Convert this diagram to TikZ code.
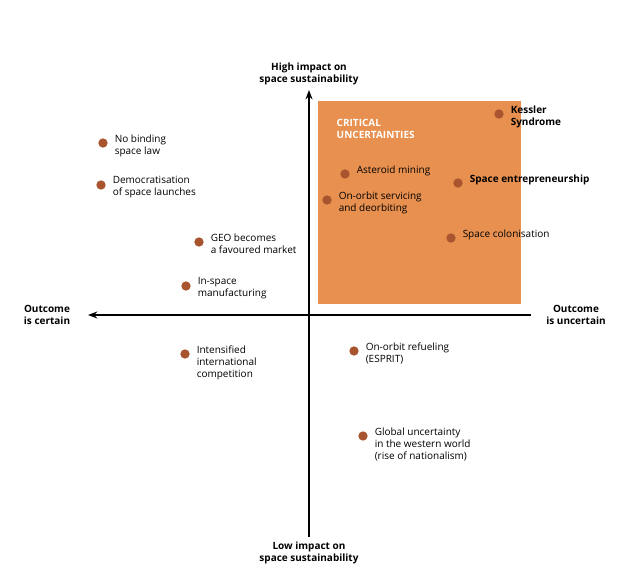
\documentclass[tikz,border=0pt]{standalone}
\usepackage{fontspec}
\setmainfont{Open Sans}
\usetikzlibrary{arrows.meta}
\definecolor{critorange}{HTML}{E8904F}
\definecolor{dotbrown}{HTML}{A8552F}
\tikzset{
  pt/.style={circle,fill=dotbrown,inner sep=0pt,minimum size=7pt},
  lbl/.style={anchor=west,align=left,font=\fontsize{7.5}{9}\selectfont,inner sep=1pt},
  axlbl/.style={align=center,font=\fontsize{7.5}{9}\selectfont\bfseries}
}
\begin{document}
\begin{tikzpicture}[x=0.75pt,y=-0.75pt]
\useasboundingbox (0,0) rectangle (640,585);
\fill[critorange] (318,101) rectangle (521,304);
\node[anchor=north west,align=left,text=white,font=\fontsize{7.5}{9}\selectfont\bfseries] (crit) at (332,115) {CRITICAL\\UNCERTAINTIES};
% axes
\coordinate (left) at (88,315);
\coordinate (right) at (531,315);
\coordinate (top) at (309,90);
\coordinate (bottom) at (309,537);
\draw[-{Stealth[length=7pt]},{Stealth[length=7pt]}-,line width=1.2pt] (left) -- (right);
\draw[-{Stealth[length=7pt]},{Stealth[length=7pt]}-,line width=1.2pt] (top) -- (bottom);
\node[axlbl,above] (hi) at (top) {High impact on\\space sustainability};
\node[axlbl,below] (lo) at (bottom) {Low impact on\\space sustainability};
\node[axlbl] (cert) at (47,315) {Outcome\\is certain};
\node[axlbl] (unc) at (576,315) {Outcome\\is uncertain};
% points
\foreach \x/\y/\t [count=\i] in {
  103/143/{No binding\\space law},
  101/185/{Democratisation\\of space launches},
  199/242/{GEO becomes\\a favoured market},
  186/286/{In-space\\manufacturing},
  185/354/{Intensified\\international\\competition},
  354/351/{On-orbit refueling\\(ESPRIT)},
  363/436/{Global uncertainty\\in the western world\\(rise of nationalism)},
  345/174/{Asteroid mining},
  327/200/{On-orbit servicing\\and deorbiting},
  451/238/{Space colonisation}}
{
  \node[pt] (p\i) at (\x,\y) {};
  \node[lbl,anchor=north west] (t\i) at ([xshift=5pt,yshift=5pt]p\i.north east) {\t};
}
\node[pt] (p11) at (499,114) {};
\node[lbl,anchor=north west,font=\fontsize{7.5}{9}\selectfont\bfseries] (t11) at ([xshift=5pt,yshift=5pt]p11.north east) {Kessler\\Syndrome};
\node[pt] (p12) at (458,183) {};
\node[lbl,anchor=north west,font=\fontsize{7.5}{9}\selectfont\bfseries] (t12) at ([xshift=5pt,yshift=5pt]p12.north east) {Space entrepreneurship};
\end{tikzpicture}
\end{document}
